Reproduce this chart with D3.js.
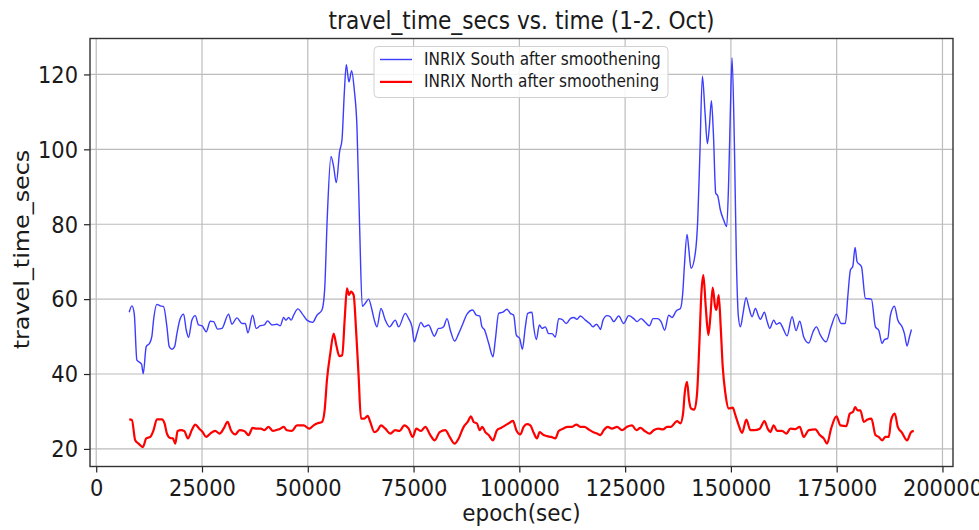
<!DOCTYPE html>
<html><head><meta charset="utf-8">
<script src="https://cdn.jsdelivr.net/npm/d3@7/dist/d3.min.js"></script>
<style>body{margin:0;background:#fff}svg{display:block}text{font-family:"DejaVu Sans",sans-serif;fill:#1a1a1a}</style>
</head><body>
<svg id="chart" width="979" height="530"></svg>
<script>
// ---- data ----
const southT = [7800,8430,8980,9610,10400,10720,11110,11820,12610,13160,13550,14340,15130,15920,16710,17260,17890,18520,19070,19860,20650,21280,21830,22620,23400,24190,24980,26000,26950,27740,28680,29710,31280,32070,33250,34440,35220,35850,36960,37820,38770,39720,40500,41530,42710,43500,44290,44840,45470,46100,46650,47670,48620,49800,51140,52170,53350,53980,54610,55480,56110,56740,57520,58080,58630,59100,59730,60360,60990,61620,62250,62880,63590,64380,65170,65720,66350,67300,68320,69340,70680,71470,73050,73840,74630,75170,75810,76750,77540,78560,79900,80930,81320,82110,82900,83690,84710,85660,86680,87630,88970,89830,90620,91170,91720,92750,93770,94320,95110,96140,97080,97870,98660,99290,100080,100710,101420,101970,102990,103390,104020,104730,105360,106140,106930,107720,108510,109300,110080,111110,112050,112840,113630,114420,115600,116630,117410,118200,118990,119150,119780,120720,121510,122300,123480,124660,125840,127030,127810,128760,129780,130730,131600,132700,133490,134350,135300,136090,137110,138060,138610,139000,139630,140030,140580,141600,142160,142630,143260,143890,144440,144910,145390,145860,146410,146880,147510,148300,149010,149480,149880,150270,150820,151300,151770,152240,152870,153580,154210,155000,155790,156580,156970,157920,158550,159180,160120,160750,161540,162330,163270,164460,165400,166270,167210,168400,169420,170210,171150,172490,173680,174940,176040,177060,177620,178250,178800,179350,179820,180850,181790,183210,184160,184940,185730,186280,187070,187700,188650,189440,190460,191010,191640,192190,192670];
const southV = [56.5,58.2,56.2,43.7,43.0,42.6,40.1,47.3,48.2,50.1,54.4,58.6,58.2,58.0,52.6,47.3,46.6,47.3,50.8,54.8,56.0,51.7,49.8,54.4,55.6,53.1,52.9,51.3,54.1,54.0,52.0,52.2,56.0,53.3,55.0,53.5,53.5,51.0,55.7,52.2,52.9,53.1,54.2,53.1,53.3,52.9,55.1,54.4,55.1,54.4,55.7,57.4,56.2,54.4,53.8,55.7,57.1,62.4,82.0,98.1,95.4,91.1,99.4,102.5,115.0,122.6,118.0,121.0,115.9,106.1,79.4,58.1,58.9,60.0,57.1,54.4,52.6,57.5,54.4,52.6,54.4,52.6,56.2,54.8,52.6,48.6,50.8,53.8,52.6,53.1,50.1,52.2,52.2,52.6,54.8,51.7,48.8,50.8,53.5,56.0,57.1,55.7,55.5,52.6,51.9,48.2,44.6,49.1,56.2,56.5,57.3,56.2,55.7,50.4,49.5,46.6,52.6,56.2,56.5,52.6,49.2,53.1,52.2,52.6,50.8,50.8,49.9,54.8,54.6,53.5,54.8,55.1,54.6,55.5,54.4,53.5,52.6,53.3,52.2,51.9,54.4,55.6,55.3,54.0,55.5,53.5,55.6,54.8,54.0,54.8,53.8,52.9,54.8,54.8,54.0,51.7,55.7,55.1,56.9,57.5,61.5,68.7,77.3,73.6,68.2,72.4,81.1,97.2,119.5,109.7,101.5,106.1,113.0,104.3,88.3,87.6,83.8,81.1,79.4,91.8,110.6,124.4,101.6,70.4,55.3,52.6,56.2,60.4,58.0,55.3,57.5,55.3,54.6,56.5,54.1,52.2,54.4,53.3,53.7,52.2,50.2,55.3,51.6,54.1,49.9,48.3,51.3,52.6,50.4,48.6,52.6,56.0,53.5,53.5,60.6,67.8,68.7,73.8,70.0,68.7,60.2,60.0,52.6,51.7,48.2,49.2,49.5,55.7,58.1,54.4,52.6,50.8,47.5,49.9,51.9];
const northT = [7800,8430,9220,10010,11030,11820,12770,13550,14340,15520,16150,16710,17490,18120,18680,19230,20020,20800,21670,22620,23400,24350,25140,26000,26950,28130,29160,30100,31050,31840,32860,33880,34990,36010,36960,37980,38930,39720,40740,41760,42710,43500,44290,45070,46260,47440,49010,50350,51380,52170,53350,53980,54530,55320,56110,56740,57450,58150,58710,59260,59730,60200,60830,61460,62020,62570,63360,64140,64770,65720,66510,67300,68320,69500,70680,71710,72810,73840,74780,75650,76750,77780,78960,79980,81170,82500,83530,84710,85660,86840,87780,88570,89200,89990,90620,91250,91960,92750,93770,94720,95660,96690,97710,98500,99290,100230,101020,101810,102600,103390,104170,104800,105750,106540,107480,108510,109300,110320,111420,112450,113470,114420,115360,116390,117410,118360,119150,119930,120880,121900,123090,124270,125450,126630,127660,128600,129630,130810,131750,132940,133960,134910,135850,136640,137270,138060,138690,139080,139630,140110,140580,141370,142000,142550,143020,143490,144050,144680,145150,145700,146260,146570,147120,147590,148070,148700,149480,150430,151060,151850,152640,153660,154610,155550,156820,157920,158700,159330,160120,160910,162090,163120,164060,165240,166270,167210,168400,169970,171000,171940,172730,173680,174940,175880,177300,178090,178880,179350,179980,180610,181400,182190,183210,184160,184940,185730,186520,187310,187860,188730,189440,190460,191640,192590,193220];
const northV = [27.9,27.7,22.3,21.4,20.5,22.8,23.2,25.0,27.9,27.9,26.8,24.1,22.9,22.8,21.4,24.8,25.0,24.8,22.8,25.1,26.5,25.4,24.5,23.2,24.1,24.8,24.1,25.4,27.2,25.0,23.9,25.0,24.8,23.7,25.6,25.4,25.4,25.0,25.9,24.8,25.1,25.4,25.9,25.0,24.8,26.3,26.3,25.4,26.3,26.8,27.2,30.3,38.4,45.5,50.8,47.7,44.8,45.0,54.4,62.9,61.1,62.0,61.1,50.8,39.3,28.1,28.1,28.8,27.2,24.5,25.0,26.3,25.4,24.1,25.0,24.8,26.3,25.4,23.2,25.4,24.8,25.9,23.7,22.3,24.5,25.0,23.2,21.4,22.8,25.9,27.2,28.7,27.2,26.8,25.0,25.9,24.5,23.7,22.3,25.0,25.6,26.3,27.0,27.5,25.0,23.9,25.9,26.6,26.3,24.3,22.8,24.5,23.7,23.4,23.2,22.8,24.8,25.4,25.9,25.9,26.5,25.9,25.9,25.2,24.5,24.1,23.7,25.0,25.9,25.4,25.9,25.0,25.9,26.3,25.0,25.6,24.8,24.1,25.0,25.4,25.2,25.9,25.9,26.8,27.4,26.8,29.4,34.8,37.9,33.0,30.8,30.5,34.8,48.2,61.5,66.4,58.0,50.4,55.3,63.1,58.0,57.1,61.1,52.6,41.9,34.8,30.8,31.0,29.0,26.3,24.3,27.8,25.0,25.0,25.4,27.4,25.4,24.5,26.3,24.8,24.8,24.1,25.4,25.3,25.9,23.2,25.0,25.2,23.7,22.8,21.4,25.4,28.7,26.3,26.1,29.4,29.9,31.2,30.3,30.3,27.2,27.8,28.1,23.7,23.2,22.3,23.2,23.2,27.7,29.4,25.9,24.3,22.3,24.5,24.8];
const xTicks = [0,25000,50000,75000,100000,125000,150000,175000,200000];
const yTicks = [20,40,60,80,100,120];
const seriesNames = ["INRIX South after smoothening","INRIX North after smoothening"];
const titleText = "travel_time_secs vs. time (1-2. Oct)";
const xLabel = "epoch(sec)";
const yLabel = "travel_time_secs";

// ---- layout ----
const W = 979, H = 530;
const M = {left: 90, right: 26, top: 38.5, bottom: 63.5};
const SY = 1.1; // text appears slightly stretched vertically in the reference
const svg = d3.select("#chart");

const south = southT.map((t, i) => ({t, v: southV[i]}));
const north = northT.map((t, i) => ({t, v: northV[i]}));
const all = south.concat(north);
const tExt = d3.extent(all, d => d.t), vExt = d3.extent(all, d => d.v);
const tPad = (tExt[1] - tExt[0]) * 0.05, vPad = (vExt[1] - vExt[0]) * 0.05;

const x = d3.scaleLinear().domain([tExt[0] - tPad, tExt[1] + tPad]).range([M.left, W - M.right]);
const y = d3.scaleLinear().domain([vExt[0] - vPad, vExt[1] + vPad]).range([H - M.bottom, M.top]);

// grid
const grid = svg.append("g");
grid.selectAll("line.gx").data(xTicks).join("line")
  .attr("x1", d => x(d)).attr("x2", d => x(d))
  .attr("y1", M.top).attr("y2", H - M.bottom)
  .attr("stroke", "#bcbcbc").attr("stroke-width", 1.2);
grid.selectAll("line.gy").data(yTicks).join("line")
  .attr("y1", d => y(d)).attr("y2", d => y(d))
  .attr("x1", M.left).attr("x2", W - M.right)
  .attr("stroke", "#bcbcbc").attr("stroke-width", 1.2);

// lines
const line = d3.line().x(d => x(d.t)).y(d => y(d.v)).curve(d3.curveMonotoneX);
svg.append("path").datum(south).attr("d", line)
  .attr("fill", "none").attr("stroke", "#3c3cff").attr("stroke-width", 1.4)
  .attr("stroke-linejoin", "round");
svg.append("path").datum(north).attr("d", line)
  .attr("fill", "none").attr("stroke", "#ff0000").attr("stroke-width", 2.2)
  .attr("stroke-linejoin", "round");

// axes
const fmt = d3.format("d");
const xAxis = svg.append("g").attr("transform", `translate(0,${H - M.bottom})`)
  .call(d3.axisBottom(x).tickValues(xTicks).tickFormat(fmt).tickSize(6));
const yAxis = svg.append("g").attr("transform", `translate(${M.left},0)`)
  .call(d3.axisLeft(y).tickValues(yTicks).tickFormat(fmt).tickSize(6));
[xAxis, yAxis].forEach(g => {
  g.select(".domain").remove();
  g.selectAll(".tick line").attr("stroke", "#222").attr("stroke-width", 1.2);
  g.selectAll(".tick text").attr("font-size", 21).attr("font-family", "DejaVu Sans").attr("fill", "#1a1a1a");
});
xAxis.selectAll(".tick text").attr("y", 0).attr("dy", "0.72em")
  .attr("transform", `translate(0,13) scale(1,${SY})`);
yAxis.selectAll(".tick text").attr("x", 0).attr("dy", "0.34em")
  .attr("transform", `translate(-12,0) scale(1,${SY})`);

// frame
svg.append("rect").attr("x", M.left).attr("y", M.top)
  .attr("width", W - M.left - M.right).attr("height", H - M.top - M.bottom)
  .attr("fill", "none").attr("stroke", "#333").attr("stroke-width", 1.4);

// title and labels
const cx = (M.left + W - M.right) / 2;
svg.append("text").attr("transform", `translate(${cx},28.5) scale(1,${SY})`)
  .attr("text-anchor", "middle").attr("font-size", 21.7).text(titleText);
svg.append("text").attr("transform", `translate(${cx},521) scale(1,${SY})`)
  .attr("text-anchor", "middle").attr("font-size", 21.5).text(xLabel);
svg.append("text").attr("transform", `translate(29,${(M.top + H - M.bottom) / 2 - 3}) scale(1,${SY}) rotate(-90)`)
  .attr("text-anchor", "middle").attr("font-size", 21.7).text(yLabel);

// legend
const lg = svg.append("g").attr("transform", "translate(374,46.5)");
lg.append("rect").attr("width", 294).attr("height", 51).attr("rx", 4)
  .attr("fill", "#fff").attr("fill-opacity", 0.85).attr("stroke", "#d0d0d0").attr("stroke-width", 1);
const legendItems = [{name: seriesNames[0], color: "#3c3cff", w: 1.4}, {name: seriesNames[1], color: "#ff0000", w: 2.2}];
legendItems.forEach((it, i) => {
  const cy = 13 + i * 22.4;
  lg.append("line").attr("x1", 6).attr("x2", 38).attr("y1", cy).attr("y2", cy)
    .attr("stroke", it.color).attr("stroke-width", it.w);
  lg.append("text").attr("transform", `translate(50,${cy + 5.5}) scale(1,${SY})`)
    .attr("font-size", 15.3).text(it.name);
});
</script>
</body></html>
